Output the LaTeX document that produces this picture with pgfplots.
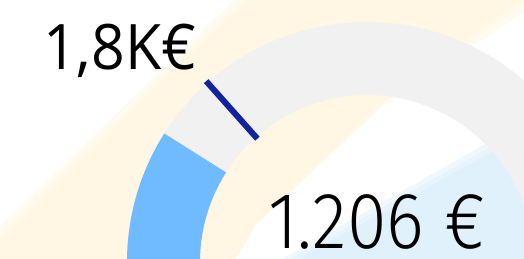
\documentclass[border=0pt]{standalone}
\usepackage{pgfplots}
\pgfplotsset{compat=1.18}
\usepackage{fontspec}
\setmainfont{Open Sans}
\newfontfamily\thinfont{Fira Sans}[UprightFont={* Light}]
\definecolor{trackgray}{HTML}{F2F1F1}
\definecolor{valblue}{HTML}{70BBFF}
\definecolor{tgtblue}{HTML}{12239E}
\definecolor{bgyellow}{HTML}{FFF7E3}
\definecolor{bgblue}{HTML}{E0F1FC}
% gauge data
\def\gvalue{1206}
\def\gtarget{1800}
\def\gmin{0}
\def\gmax{6700}
\begin{document}
\begin{tikzpicture}
\pgfmathsetmacro\vang{180-180*((\gvalue-\gmin)/(\gmax-\gmin))}
\pgfmathsetmacro\tang{180-180*((\gtarget-\gmin)/(\gmax-\gmin))}
\begin{axis}[
  scale only axis, width=524bp, height=259bp,
  xmin=-367, xmax=157, ymin=3, ymax=262,
  hide axis, clip=true,
]
% decorative background bands (soft edges by layering)
\addplot[draw=none, fill=bgyellow, fill opacity=0.5] coordinates {(-367,36) (-133,262) (157,262) (157,250) (16,156) (-123,26) (-143,3) (-367,3)} --cycle;
\addplot[draw=none, fill=bgyellow, fill opacity=0.5] coordinates {(-367,30) (-127,262) (157,262) (157,257) (20,162) (-117,32) (-137,3) (-367,3)} --cycle;
\addplot[draw=none, fill=bgyellow] coordinates {(-367,24) (-121,262) (157,262) (157,264) (24,168) (-111,38) (-131,3) (-367,3)} --cycle;
\addplot[draw=none, fill=bgblue, fill opacity=0.5] coordinates {(-85,3) (157,140) (157,3)} --cycle;
\addplot[draw=none, fill=bgblue, fill opacity=0.5] coordinates {(-77,3) (157,134) (157,3)} --cycle;
\addplot[draw=none, fill=bgblue] coordinates {(-69,3) (157,128) (157,3)} --cycle;
% gauge track
\addplot[draw=trackgray, line width=73bp, data cs=polar, domain=0:180, samples=181] ({x},{203.5});
% value arc
\addplot[draw=valblue, line width=73bp, data cs=polar, domain=\vang:180, samples=61] ({x},{203.5});
% target marker
\addplot[draw=tgtblue, line width=6bp, data cs=polar] coordinates {(\tang,165) (\tang,242)};
\node[anchor=base west, inner sep=0pt, text depth=0pt] at (axis cs:-324,192) {\scalebox{0.94}[1]{\fontsize{63}{63}\selectfont 1,8K€}};
\node[anchor=base west, inner sep=0pt, text depth=0pt] at (axis cs:-99,14) {\scalebox{0.9}[1]{\thinfont\fontsize{80}{80}\selectfont 1.206 €}};
\end{axis}
\end{tikzpicture}
\end{document}
